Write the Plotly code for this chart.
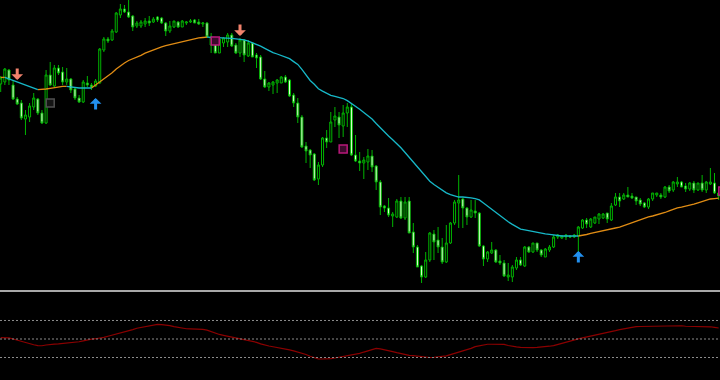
import plotly.graph_objects as go

# ---------------- data ----------------
opens = [216,218,230,215,201,197,181,183,193,201,187,177,225,214,232,228,218,221,211,202,
         198,217,215,214,217,250,261,260,268,285,291,288,284,274,274,276,279,278,283,282,
         277,269,273,278,273,277,278,280,278,276,277,255,257,247,257,258,265,255,247,260,
         244,257,245,243,221,213,215,217,217,223,220,205,197,183,154,150,146,121,135,162,
         158,180,183,174,187,193,145,139,137,138,144,134,118,94,92,84,83,99,82,99,
         68,53,34,23,40,66,60,53,38,57,77,97,101,92,83,89,87,54,41,47,
         50,39,37,23,23,32,40,34,53,48,57,50,43,50,53,63,62,63,64,63,
         64,72,80,73,77,81,82,87,80,95,103,101,105,104,103,100,97,93,101,105,
         105,103,113,110,116,118,114,111,117,110,117,110,116,117,107]
highs = [224,232,231,220,203,200,190,197,207,202,190,230,238,235,235,233,232,222,213,205,
         220,224,217,221,252,263,263,271,288,296,295,300,285,279,280,282,284,283,284,283,
         278,279,279,279,280,279,281,281,281,278,278,267,263,262,263,267,267,257,262,261,
         260,257,247,245,229,218,219,221,224,225,221,207,202,185,158,151,147,138,163,170,
         188,193,188,195,197,196,165,148,143,151,150,135,120,95,102,88,101,103,103,103,
         77,55,35,48,68,70,73,62,75,78,100,125,102,93,100,100,88,55,49,58,
         51,45,40,37,35,43,43,54,54,57,57,51,52,55,65,66,65,66,65,66,
         74,81,82,82,83,87,87,87,97,107,107,107,113,107,103,102,98,102,107,107,
         107,114,115,119,123,119,117,118,119,117,125,119,132,127,107]
lows = [208,215,215,200,195,180,165,178,190,185,176,176,214,213,225,215,215,207,200,197,
        197,213,210,213,216,248,257,259,267,282,287,282,269,272,272,273,274,277,278,276,
        264,267,272,272,273,275,277,277,275,273,263,247,247,247,253,253,253,246,243,238,
        243,243,232,220,212,209,206,207,217,217,203,193,177,152,137,132,119,115,133,152,
        158,173,162,163,173,144,138,129,121,130,128,110,85,88,83,73,82,81,80,67,
        47,33,17,22,38,40,47,36,37,56,75,72,72,75,82,82,53,34,38,46,
        37,35,23,19,18,30,34,33,47,47,48,43,43,48,52,61,61,60,62,62,
        44,71,72,72,76,76,81,77,79,94,93,100,103,101,95,94,92,91,99,103,
        101,102,107,108,113,113,108,109,107,109,108,107,115,106,100]
closes = [222,231,220,201,196,182,185,194,202,187,177,225,215,232,227,218,221,210,202,198,
          218,215,213,219,251,261,259,269,287,291,288,283,273,277,278,279,277,281,280,277,
          269,274,279,273,279,278,279,277,276,277,263,263,247,261,262,265,254,247,260,245,
          257,243,242,221,213,217,218,220,223,218,204,197,183,153,149,145,120,135,162,158,
          178,184,175,187,193,145,139,137,140,144,133,118,93,92,85,86,99,82,98,67,
          53,33,23,40,67,58,53,38,57,77,98,100,92,83,90,87,54,41,48,50,
          38,37,24,25,33,40,35,53,48,57,50,45,51,53,63,65,64,65,63,65,
          73,80,76,81,83,86,86,81,94,103,99,105,103,102,99,96,93,101,107,107,
          103,113,109,118,118,113,111,117,110,117,110,118,118,107,104]

ma = [222.6,222.6,221.1,219.5,217.8,216.2,214.6,213.0,211.7,210.4,
      210.5,211.0,211.7,212.4,213.0,213.6,213.7,213.0,212.4,212.0,
      212.0,212.0,212.0,215.0,217.7,220.6,223.5,227.2,231.0,234.2,
      237.0,239.5,241.1,242.7,244.7,246.8,248.6,250.3,251.9,253.2,
      254.4,255.4,256.2,257.1,258.3,259.7,260.5,261.3,262.1,262.5,
      262.9,262.8,262.6,262.4,262.2,262.0,261.6,261.1,260.6,260.1,
      258.8,257.3,255.7,253.8,251.6,249.4,247.4,246.0,244.5,243.1,
      241.3,238.4,235.6,230.7,225.1,219.5,215.8,211.3,208.9,206.6,
      204.7,203.6,202.5,201.5,199.4,196.7,193.8,190.7,187.6,184.6,
      180.9,176.5,172.2,167.8,164.0,160.3,156.5,152.2,147.5,142.8,
      138.0,133.3,128.7,123.8,118.8,115.5,112.7,109.8,107.1,105.4,
      103.8,103.0,103.0,102.9,102.2,101.3,100.1,97.0,93.8,90.5,
      87.2,83.9,81.1,78.2,75.6,73.1,70.9,70.1,69.2,68.4,
      67.6,66.8,66.2,65.6,65.0,64.4,64.0,64.0,64.0,64.0,
      64.0,64.5,65.5,66.6,67.6,68.6,69.5,70.3,71.2,72.0,
      72.8,74.3,76.0,77.5,79.1,80.7,82.1,83.1,84.0,85.0,
      86.0,87.5,89.1,90.6,92.1,92.8,93.7,94.6,95.9,97.2,
      98.4,99.8,101.0,101.4,101.8]

osc = [51.5,51.7,51.2,50.0,48.6,47.2,45.8,44.7,43.8,42.9,
       42.7,43.5,44.3,44.5,44.8,45.2,45.4,45.9,46.4,47.0,
       47.9,49.0,49.8,50.3,50.8,51.8,53.0,54.1,55.1,56.2,
       57.4,58.8,60.2,61.6,62.6,63.6,64.5,65.2,65.8,65.6,
       65.2,64.4,63.3,62.4,61.6,61.1,61.0,60.9,60.8,60.4,
       59.6,57.8,56.1,54.9,53.9,53.0,52.3,51.5,50.5,49.5,
       48.5,47.5,46.4,44.7,43.2,42.4,41.6,40.9,40.3,39.4,
       38.3,37.2,36.1,34.9,33.2,31.3,29.8,28.4,28.4,28.4,
       28.9,29.5,30.2,31.0,31.7,32.6,33.6,34.4,35.9,37.4,
       38.5,39.8,39.3,38.5,37.6,36.4,35.2,34.1,33.1,32.4,
       32.0,31.5,30.8,30.0,30.0,30.3,30.7,31.3,31.8,33.1,
       34.4,35.7,36.9,38.2,39.9,41.8,42.9,43.7,44.3,44.3,
       44.3,44.3,44.2,43.0,41.9,41.4,40.9,40.6,40.6,40.6,
       40.9,41.1,41.6,42.2,42.9,44.2,45.6,46.8,48.0,49.1,
       50.1,51.2,52.1,52.9,53.9,55.0,56.1,57.1,58.1,59.1,
       60.2,61.2,62.1,63.0,63.4,63.5,63.6,63.8,64.2,64.4,
       64.6,64.7,64.8,64.8,64.7,64.3,63.8,63.7,63.7,63.7,
       63.7,63.7,63.2,62.5,61.9]
osc_levels = [70, 50, 30]

sell_idx = [4, 58]
sell_price = [220, 264]
buy_idx = [23, 140]
buy_price = [202, 49]

gray_box_idx = [12]
gray_box_price = [197]
mag_box_idx = [52, 83, 175]
mag_box_price = [259, 151, 109]

# ---------------- figure ----------------
n = len(closes)
idx = list(range(n))

fig = go.Figure()

fig.add_trace(go.Candlestick(
    x=idx, open=opens, high=highs, low=lows, close=closes,
    increasing=dict(line=dict(color="#00b400", width=1), fillcolor="#000000"),
    decreasing=dict(line=dict(color="#00b400", width=1), fillcolor="#e4ffd8"),
    whiskerwidth=0, hoverinfo="skip", showlegend=False,
))

# coloured moving average (orange rising, cyan falling)
up = [None] * n
dn = [None] * n
state = True
for i in range(1, n):
    d = ma[i] - ma[i - 1]
    if d > 0:
        state = True
    elif d < 0:
        state = False
    tgt = up if state else dn
    tgt[i - 1] = ma[i - 1]
    tgt[i] = ma[i]
fig.add_trace(go.Scatter(x=idx, y=up, mode="lines", line=dict(color="#e08c14", width=1.3),
                         connectgaps=False, hoverinfo="skip", showlegend=False))
fig.add_trace(go.Scatter(x=idx, y=dn, mode="lines", line=dict(color="#17b8c8", width=1.3),
                         connectgaps=False, hoverinfo="skip", showlegend=False))

# check boxes
fig.add_trace(go.Scatter(x=gray_box_idx, y=gray_box_price, mode="markers",
                         marker=dict(symbol="square", size=8, color="#141414",
                                     line=dict(color="#505050", width=1.5)),
                         hoverinfo="skip", showlegend=False))
fig.add_trace(go.Scatter(x=mag_box_idx, y=mag_box_price, mode="markers",
                         marker=dict(symbol="square", size=8, color="#3c0a2c",
                                     line=dict(color="#b8187a", width=1.5)),
                         hoverinfo="skip", showlegend=False))

# oscillator
fig.add_trace(go.Scatter(x=idx, y=osc, mode="lines", line=dict(color="#8b0000", width=1.2),
                         xaxis="x", yaxis="y2", hoverinfo="skip", showlegend=False))

annotations = []
for i, p in zip(sell_idx, sell_price):
    annotations.append(dict(x=i, y=p, xref="x", yref="y", text="", showarrow=True,
                            ax=0, ay=-13, arrowhead=1, arrowsize=0.65, arrowwidth=3,
                            arrowcolor="#f2826c"))
for i, p in zip(buy_idx, buy_price):
    annotations.append(dict(x=i, y=p, xref="x", yref="y", text="", showarrow=True,
                            ax=0, ay=13, arrowhead=1, arrowsize=0.65, arrowwidth=3,
                            arrowcolor="#2290f0"))

shapes = []
for lv in osc_levels:
    shapes.append(dict(type="line", xref="paper", yref="y2", x0=0, x1=1, y0=lv, y1=lv,
                       line=dict(color="#8c8c8c", width=1, dash="2px,2px")))
shapes.append(dict(type="line", xref="paper", yref="paper", x0=0, x1=1,
                   y0=1 - 291 / 380, y1=1 - 291 / 380, line=dict(color="#a8a8a8", width=2)))

fig.update_layout(
    width=720, height=380,
    margin=dict(l=0, r=0, t=0, b=0),
    paper_bgcolor="#000000", plot_bgcolor="#000000",
    showlegend=False,
    xaxis=dict(range=[-0.17, 174.33], visible=False, rangeslider=dict(visible=False),
               showgrid=False, zeroline=False, fixedrange=True),
    yaxis=dict(domain=[1 - 289 / 380, 1], range=[11, 300], visible=False,
               showgrid=False, zeroline=False),
    yaxis2=dict(domain=[0, 1 - 293 / 380], range=[5.7, 99.7], visible=False,
                showgrid=False, zeroline=False, anchor="x"),
    annotations=annotations,
    shapes=shapes,
)

fig.write_html("out.html")
